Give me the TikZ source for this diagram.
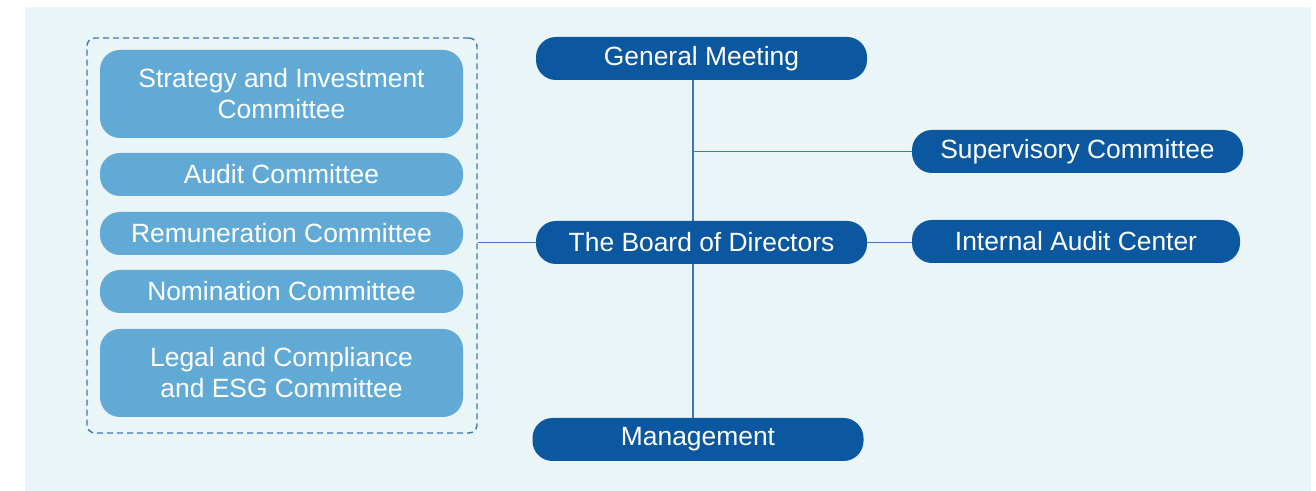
\documentclass[tikz,border=0pt]{standalone}
\usepackage{fontspec}
\setmainfont{Liberation Sans}
\usepackage{tikz}
\definecolor{darkblue}{HTML}{0B57A0}
\definecolor{lightblue}{HTML}{62AAD6}
\definecolor{paleblue}{HTML}{EAF5F8}
\definecolor{linkblue}{HTML}{3A78B8}

\tikzset{
  organ/.style={fill=darkblue, text=white, rounded corners=10pt, minimum width=165.5pt,
    minimum height=21.5pt, inner sep=0pt, font=\fontsize{13.2}{15.5}\selectfont},
  committee/.style={fill=lightblue, text=white, rounded corners=10pt, minimum width=181.5pt,
    minimum height=21.5pt, inner sep=0pt, align=center, font=\fontsize{13.2}{15.5}\selectfont},
  link/.style={draw=linkblue, line width=0.6pt}
}

\begin{document}
\begin{tikzpicture}[x=0.5pt,y=0.5pt]
  \useasboundingbox (0,0) rectangle (1316,491);
  \fill [paleblue] (25,0) rectangle (1311,484);

  % committees of the board
  \node [draw=linkblue, dashed, dash pattern=on 3pt off 2pt, line width=0.7pt, rounded corners=4pt,
    minimum width=195pt, minimum height=197.5pt] (committees) at (282,255.5) {};
  \node [committee, minimum height=44pt] (strategy) at (281.5,397) {Strategy and Investment\\Committee};
  \node [committee] (audit) at (281.5,316.5) {Audit Committee};
  \node [committee] (remuneration) at (281.5,257.5) {Remuneration Committee};
  \node [committee] (nomination) at (281.5,199.5) {Nomination Committee};
  \node [committee, minimum height=44pt] (legal) at (281.5,118) {Legal and Compliance\\and ESG Committee};

  % main line
  \coordinate (trunk) at (693,0);
  \draw [link] (trunk |- 0,432.5) -- (trunk |- 0,51.5);

  \node [organ] (meeting) at (701.5,432.5) {General Meeting};
  \node [organ] (board) at (701.5,248.5) {The Board of Directors};
  \node [organ] (management) at (698,51.5) {Management};
  \node [organ] (supervisory) at (1077.5,339.5) {Supervisory Committee};
  \node [organ, minimum width=164pt] (internal) at (1076,249.5) {Internal Audit Center};

  \draw [link] (trunk |- supervisory) -- (supervisory.west);
  \draw [link] (board.east) -- (internal.west |- board);
  \draw [link] (committees.east |- board) -- (board.west);
\end{tikzpicture}
\end{document}
